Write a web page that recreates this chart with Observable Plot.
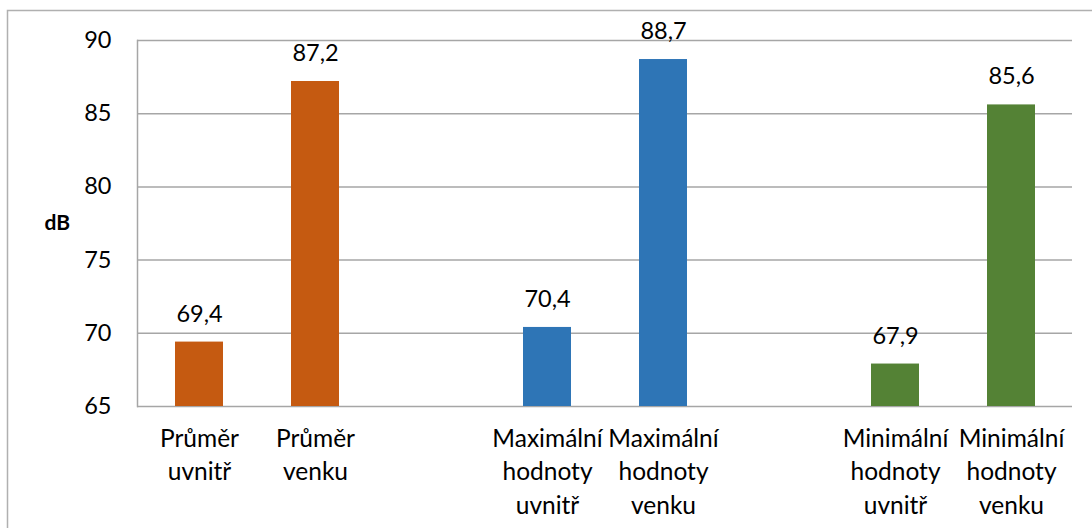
<!DOCTYPE html>
<html>
<head>
<meta charset="utf-8">
<script src="https://cdn.jsdelivr.net/npm/d3@7"></script>
<script src="https://cdn.jsdelivr.net/npm/@observablehq/plot@0.6"></script>
<style>
  body { margin: 0; background: #fff; }
  svg { display: block; }
</style>
</head>
<body>
<div id="chart"></div>
<script>
// Category slots along the x axis; empty slots separate the three groups.
const categories = [
  "Průměr\nuvnitř",
  "Průměr\nvenku",
  "",
  "Maximální\nhodnoty\nuvnitř",
  "Maximální\nhodnoty\nvenku",
  "",
  "Minimální\nhodnoty\nuvnitř",
  "Minimální\nhodnoty\nvenku"
];
// Noise levels in dB (null = empty slot)
const values = [69.4, 87.2, null, 70.4, 88.7, null, 67.9, 85.6];
const barColors = ["#C55A11", "#C55A11", null, "#2E75B6", "#2E75B6", null, "#548235", "#548235"];
const yTicks = [65, 70, 75, 80, 85, 90];
const yLabel = "dB";

const rows = values
  .map((v, i) => ({slot: i, value: v, color: barColors[i]}))
  .filter(d => d.value != null);

const fmt = v => v.toFixed(1).replace(".", ",");
const font = "Lato, 'Open Sans', sans-serif";
const grid = "#a6a6a6";

const chart = Plot.plot({
  width: 1092,
  height: 528,
  marginLeft: 137,
  marginRight: 20,
  marginTop: 40,
  marginBottom: 122,
  style: {fontFamily: font, fontSize: "23.5px", color: "#000", background: "#fff"},
  x: {domain: d3.range(categories.length), paddingInner: 0.59, paddingOuter: 0.295, label: null},
  y: {domain: [65, 90], label: null},
  marks: [
    Plot.ruleY(yTicks, {stroke: grid, strokeWidth: 1.5}),
    Plot.frame({anchor: "left", stroke: grid, strokeWidth: 1.5}),
    Plot.barY(rows, {x: "slot", y1: 65, y2: "value", fill: "color"}),
    Plot.text(rows, {
      x: "slot", y: "value", text: d => fmt(d.value),
      dy: -28, fontSize: 23.5, fill: "#000"
    }),
    Plot.axisY(yTicks, {
      tickSize: 0, tickPadding: 26, fontSize: 23.5, label: null, fill: "#000"
    }),
    Plot.axisX({
      tickSize: 0, tickPadding: 17, fontSize: 24.5, lineHeight: 1.36,
      tickFormat: i => categories[i], label: null, fill: "#000"
    }),
    Plot.text([yLabel], {
      frameAnchor: "left", dx: -93, textAnchor: "start",
      fontWeight: "bold", fontSize: 21, fill: "#000"
    })
  ]
});

// Light outer border of the chart area
d3.select(chart).insert("rect", ":first-child")
  .attr("x", 7.5).attr("y", 10.5)
  .attr("width", 1100).attr("height", 540)
  .attr("fill", "none").attr("stroke", "#b0b0b0").attr("stroke-width", 1.5);

document.getElementById("chart").append(chart);
</script>
</body>
</html>
